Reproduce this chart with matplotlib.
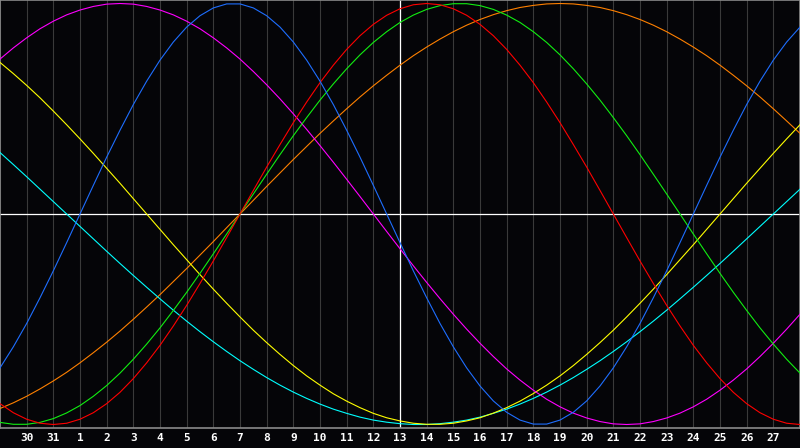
import matplotlib
matplotlib.use('Agg')
import matplotlib.pyplot as plt
import matplotlib.transforms as mtransforms

# day labels under the grid columns 1..29, today = 13
day_labels = ['30', '31'] + [str(d) for d in range(1, 28)]
today = '13'

# cycle values read every half day column, left edge (col 0) to right edge (col 30)
cycle_23 = [-0.731, -0.631, -0.520, -0.398, -0.270, -0.136, 0.000, 0.136, 0.270, 0.398,
            0.520, 0.631, 0.731, 0.817, 0.888, 0.942, 0.979, 0.998, 0.998, 0.979,
            0.942, 0.888, 0.817, 0.731, 0.631, 0.520, 0.398, 0.270, 0.136, 0.000,
            -0.136, -0.270, -0.398, -0.520, -0.631, -0.731, -0.817, -0.888, -0.942, -0.979,
            -0.998, -0.998, -0.979, -0.942, -0.888, -0.817, -0.731, -0.631, -0.520, -0.398,
            -0.270, -0.136, 0.000, 0.136, 0.270, 0.398, 0.520, 0.631, 0.731, 0.817,
            0.888]
cycle_28 = [-0.901, -0.944, -0.975, -0.994, -1.000, -0.994, -0.975, -0.944, -0.901, -0.847,
            -0.782, -0.707, -0.624, -0.532, -0.434, -0.330, -0.223, -0.112, 0.000, 0.112,
            0.223, 0.330, 0.434, 0.532, 0.624, 0.707, 0.782, 0.847, 0.901, 0.944,
            0.975, 0.994, 1.000, 0.994, 0.975, 0.944, 0.901, 0.847, 0.782, 0.707,
            0.624, 0.532, 0.434, 0.330, 0.223, 0.112, 0.000, -0.112, -0.223, -0.330,
            -0.434, -0.532, -0.624, -0.707, -0.782, -0.847, -0.901, -0.944, -0.975, -0.994,
            -1.000]
cycle_33 = [-0.990, -0.999, -0.999, -0.990, -0.972, -0.945, -0.910, -0.866, -0.815, -0.756,
            -0.690, -0.618, -0.541, -0.458, -0.372, -0.282, -0.189, -0.095, 0.000, 0.095,
            0.189, 0.282, 0.372, 0.458, 0.541, 0.618, 0.690, 0.756, 0.815, 0.866,
            0.910, 0.945, 0.972, 0.990, 0.999, 0.999, 0.990, 0.972, 0.945, 0.910,
            0.866, 0.815, 0.756, 0.690, 0.618, 0.541, 0.458, 0.372, 0.282, 0.189,
            0.095, 0.000, -0.095, -0.189, -0.282, -0.372, -0.458, -0.541, -0.618, -0.690,
            -0.756]
cycle_38 = [0.736, 0.789, 0.837, 0.880, 0.916, 0.946, 0.969, 0.986, 0.997, 1.000,
            0.997, 0.986, 0.969, 0.946, 0.916, 0.880, 0.837, 0.789, 0.736, 0.677,
            0.614, 0.547, 0.476, 0.402, 0.325, 0.246, 0.165, 0.083, 0.000, -0.083,
            -0.165, -0.246, -0.325, -0.402, -0.476, -0.547, -0.614, -0.677, -0.736, -0.789,
            -0.837, -0.880, -0.916, -0.946, -0.969, -0.986, -0.997, -1.000, -0.997, -0.986,
            -0.969, -0.946, -0.916, -0.880, -0.837, -0.789, -0.736, -0.677, -0.614, -0.547,
            -0.476]
cycle_43 = [0.720, 0.667, 0.611, 0.552, 0.489, 0.424, 0.357, 0.288, 0.217, 0.146,
            0.073, 0.000, -0.073, -0.146, -0.217, -0.288, -0.357, -0.424, -0.489, -0.552,
            -0.611, -0.667, -0.720, -0.769, -0.813, -0.854, -0.889, -0.920, -0.947, -0.968,
            -0.983, -0.994, -0.999, -0.999, -0.994, -0.983, -0.968, -0.946, -0.920, -0.889,
            -0.853, -0.813, -0.769, -0.720, -0.667, -0.611, -0.552, -0.489, -0.424, -0.357,
            -0.288, -0.217, -0.146, -0.073, 0.000, 0.073, 0.146, 0.217, 0.288, 0.357,
            0.424]
cycle_48 = [-0.924, -0.897, -0.866, -0.831, -0.793, -0.752, -0.707, -0.659, -0.609, -0.556,
            -0.500, -0.442, -0.383, -0.321, -0.259, -0.195, -0.131, -0.065, 0.000, 0.065,
            0.131, 0.195, 0.259, 0.321, 0.383, 0.442, 0.500, 0.556, 0.609, 0.659,
            0.707, 0.752, 0.793, 0.831, 0.866, 0.897, 0.924, 0.947, 0.966, 0.981,
            0.991, 0.998, 1.000, 0.998, 0.991, 0.981, 0.966, 0.947, 0.924, 0.897,
            0.866, 0.831, 0.793, 0.752, 0.707, 0.659, 0.609, 0.556, 0.500, 0.442,
            0.383]
cycle_53 = [0.292, 0.235, 0.177, 0.118, 0.059, 0.000, -0.059, -0.118, -0.177, -0.235,
            -0.292, -0.348, -0.403, -0.457, -0.509, -0.559, -0.607, -0.653, -0.697, -0.738,
            -0.777, -0.813, -0.846, -0.876, -0.903, -0.927, -0.947, -0.965, -0.979, -0.989,
            -0.996, -1.000, -1.000, -0.996, -0.989, -0.979, -0.965, -0.947, -0.927, -0.903,
            -0.876, -0.846, -0.813, -0.777, -0.738, -0.697, -0.653, -0.607, -0.559, -0.509,
            -0.457, -0.403, -0.348, -0.292, -0.235, -0.177, -0.118, -0.059, 0.000, 0.059,
            0.118]

series = [
    (cycle_48, '#ff8000'),
    (cycle_53, '#00ffff'),
    (cycle_43, '#ffff00'),
    (cycle_38, '#ff00ff'),
    (cycle_33, '#11ee11'),
    (cycle_28, '#ff0000'),
    (cycle_23, '#1e6eff'),
]

n_days = len(day_labels) + 1

fig = plt.figure(figsize=(8, 4.48), dpi=100, facecolor='#050508')
ax = fig.add_axes([0, 20 / 448, 1, 428 / 448], facecolor='#050508')
ax.set_xlim(0, n_days)
lim = 214 / 210.5
ax.set_ylim(-lim, lim)

# day grid
for c in range(n_days + 1):
    ax.axvline(c, color='#3a3a3a', lw=0.8, zorder=1)

ax.axhline(0, color='white', lw=0.9, zorder=2)
today_col = day_labels.index(today) + 1
ax.axvline(today_col, color='white', lw=0.9, zorder=2)

for values, color in series:
    cols = [i / 2 for i in range(len(values))]
    ax.plot(cols, values, color=color, lw=0.8, zorder=3)

ax.set_xticks([])
ax.set_yticks([])
for s in ax.spines.values():
    s.set_color('#8a8a8a')
    s.set_linewidth(1.2)

trans = mtransforms.blended_transform_factory(ax.transData, fig.transFigure)
for i, lab in enumerate(day_labels):
    fig.text(i + 1, 10 / 448, lab, transform=trans, color='white',
             ha='center', va='center', fontsize=8, fontweight='bold',
             family='DejaVu Sans Mono')

fig.savefig('out.png', dpi=100, facecolor=fig.get_facecolor())
